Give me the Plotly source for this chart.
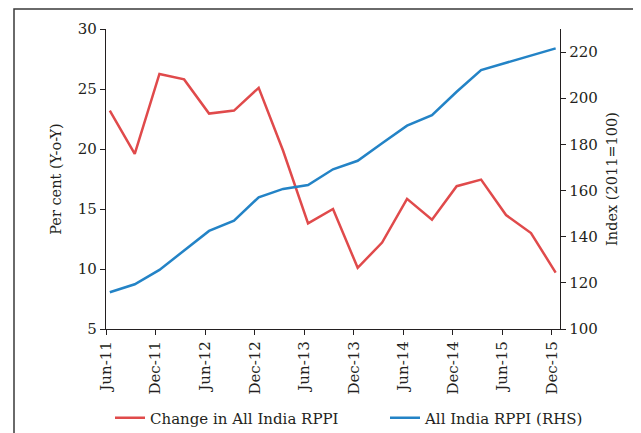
import plotly.graph_objects as go

dates = ["2011-06-15", "2011-09-15", "2011-12-15", "2012-03-15", "2012-06-15",
         "2012-09-15", "2012-12-15", "2013-03-15", "2013-06-15", "2013-09-15",
         "2013-12-15", "2014-03-15", "2014-06-15", "2014-09-15", "2014-12-15",
         "2015-03-15", "2015-06-15", "2015-09-15", "2015-12-15"]
change_rppi = [23.2, 19.6, 26.25, 25.8, 22.95, 23.2, 25.1, 19.85, 13.8, 15.0,
               10.1, 12.2, 15.85, 14.1, 16.9, 17.45, 14.5, 13.0, 9.7]
rppi_index = [115.9, 119.4, 125.6, 134.0, 142.5, 146.9, 157.1, 160.7, 162.4, 169.2,
              172.9, 180.5, 188.1, 192.7, 202.8, 212.2, 215.4, 218.3, 221.6]
tick_dates = ["2011-06-01", "2011-12-01", "2012-06-01", "2012-12-01", "2013-06-01",
              "2013-12-01", "2014-06-01", "2014-12-01", "2015-06-01", "2015-12-01"]
tick_labels = ["Jun-11", "Dec-11", "Jun-12", "Dec-12", "Jun-13",
               "Dec-13", "Jun-14", "Dec-14", "Jun-15", "Dec-15"]

RED = "#E04A4B"
BLUE = "#2383C6"
TXT = "#231F20"
FONT = "DejaVu Serif"

# page body has an 8px default margin; size the figure so it fits the window
W, H = 633, 425
L, T, PW, PH = 98, 21, 454, 300

fig = go.Figure()
fig.add_trace(go.Scatter(x=dates, y=change_rppi, mode="lines",
                         name="Change in All India RPPI", legend="legend",
                         line=dict(color=RED, width=2.5)))
fig.add_trace(go.Scatter(x=dates, y=rppi_index, mode="lines",
                         name="All India RPPI (RHS)", yaxis="y2", legend="legend2",
                         line=dict(color=BLUE, width=2.5)))

axis_common = dict(showline=True, linecolor=TXT, linewidth=1.3, ticks="outside",
                   ticklen=5, tickwidth=1.2, tickcolor=TXT, showgrid=False,
                   zeroline=False, automargin=False,
                   tickfont=dict(family=FONT, size=15, color=TXT))

legend_common = dict(orientation="h", xanchor="left", yanchor="middle",
                     y=-(410 - T - PH) / PH,
                     font=dict(family=FONT, size=15, color=TXT),
                     bgcolor="rgba(0,0,0,0)")

fig.update_layout(
    width=W, height=H,
    margin=dict(l=L, r=W - L - PW, t=T, b=H - T - PH, autoexpand=False),
    paper_bgcolor="white", plot_bgcolor="white",
    font=dict(family=FONT, color=TXT, size=15),
    xaxis=dict(type="date", range=["2011-06-01", "2015-12-31"],
               tickmode="array", tickvals=tick_dates, ticktext=tick_labels,
               tickangle=-90, **axis_common),
    yaxis=dict(range=[5, 30], tickvals=[5, 10, 15, 20, 25, 30],
               title=dict(text="Per cent (Y-o-Y)", font=dict(family=FONT, size=14.5, color=TXT),
                          standoff=12),
               **axis_common),
    yaxis2=dict(range=[100, 230], tickvals=[100, 120, 140, 160, 180, 200, 220],
                overlaying="y", side="right", anchor="x",
                title=dict(text="Index (2011=100)", font=dict(family=FONT, size=14.5, color=TXT),
                           standoff=10),
                **axis_common),
    legend=dict(x=(102 - L) / PW, **legend_common),
    legend2=dict(x=(377 - L) / PW, **legend_common),
    showlegend=True,
)

fig.add_shape(type="rect", xref="paper", yref="paper",
              x0=(6 - L) / PW, x1=(W + 10 - L) / PW,
              y0=-(H + 10 - T - PH) / PH, y1=1 + (T - 1) / PH,
              line=dict(color="#3A3A3A", width=1.5), fillcolor="rgba(0,0,0,0)",
              layer="below")

fig.write_html("out.html")
